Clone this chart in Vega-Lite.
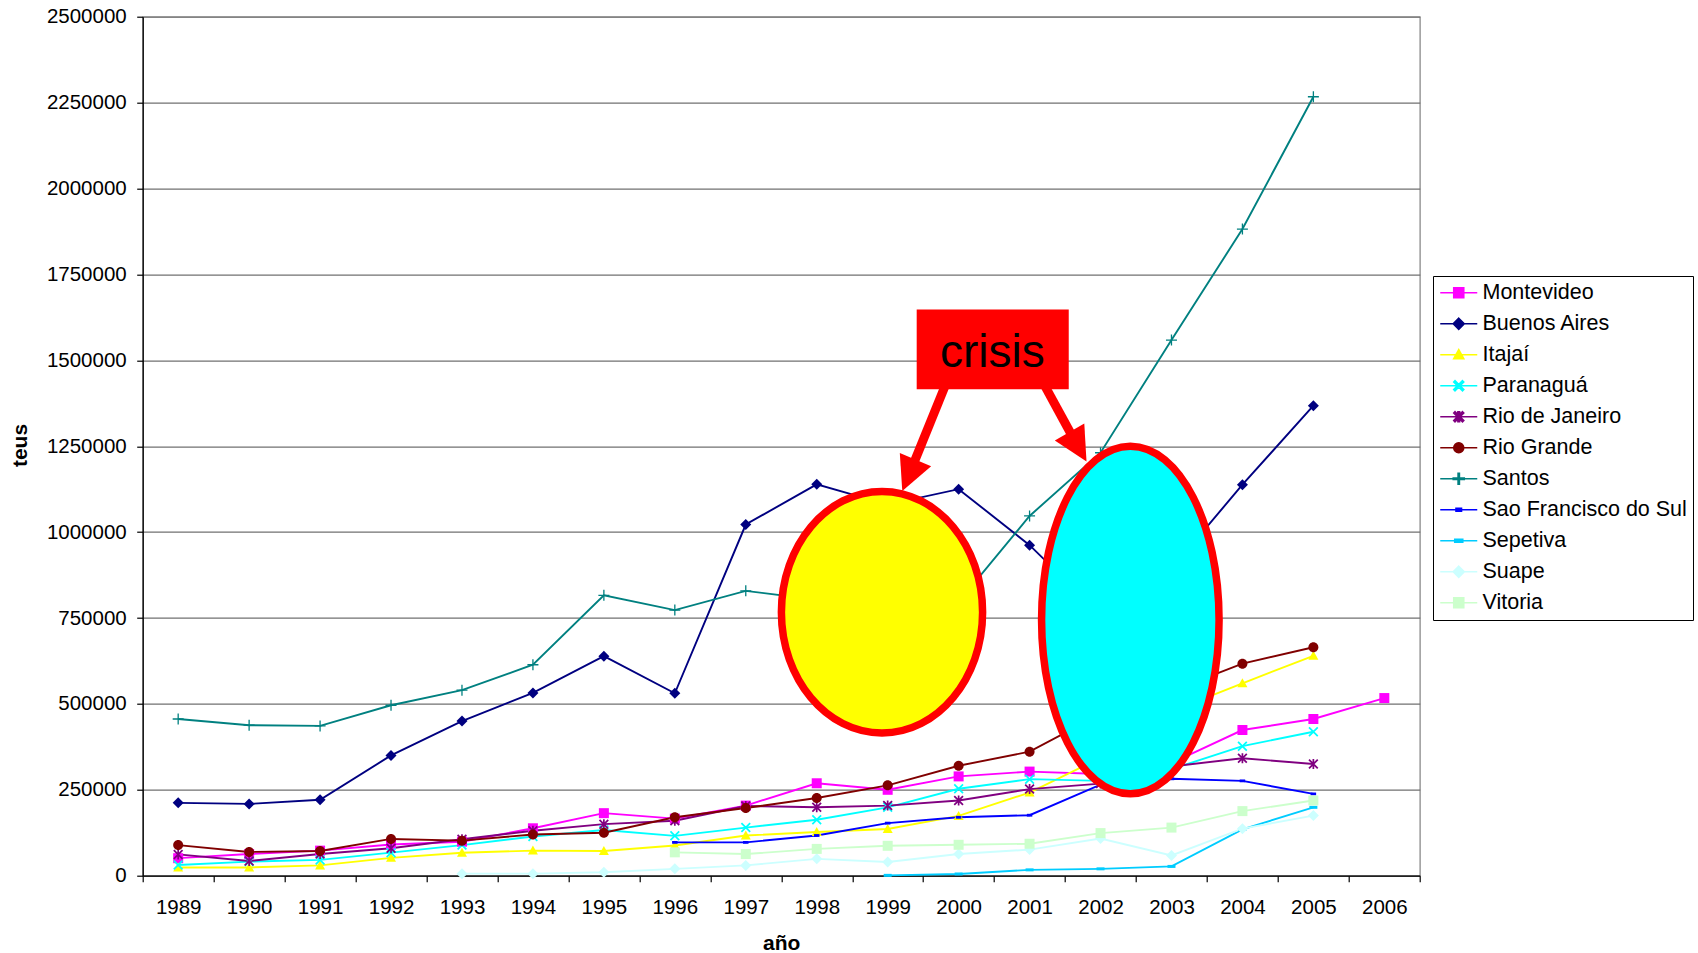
{
  "$schema": "https://vega.github.io/schema/vega-lite/v6.json",
  "autosize": {"type": "none"},
  "width": 1277.1,
  "height": 859,
  "padding": {"left": 142.7, "top": 16.7, "right": 278.2, "bottom": 77.3},
  "background": "white",
  "config": {
    "font": "Liberation Sans",
    "view": {"stroke": "#808080", "strokeWidth": 1.2},
    "axis": {"labelFont": "Liberation Sans", "titleFont": "Liberation Sans", "labelColor": "black", "titleColor": "black"},
    "legend": {"orient": "none", "legendX": 1290.3, "legendY": 259.3,
      "strokeColor": "black", "fillColor": "white", "padding": 6,
      "labelFontSize": 21.5, "labelFont": "Liberation Sans", "labelColor": "black", "labelLimit": 400,
      "symbolSize": 100, "symbolOffset": 9, "labelOffset": 13, "rowPadding": 8,
      "symbolOpacity": 1, "symbolStrokeWidth": 1.6}
  },
  "datasets": {
    "ports": [
      {"port": "Montevideo", "year": 1989, "teus": 51000}, {"port": "Montevideo", "year": 1990, "teus": 63000}, {"port": "Montevideo", "year": 1991, "teus": 73000}, {"port": "Montevideo", "year": 1992, "teus": 91000}, {"port": "Montevideo", "year": 1993, "teus": 99000}, {"port": "Montevideo", "year": 1994, "teus": 138000}, {"port": "Montevideo", "year": 1995, "teus": 182000}, {"port": "Montevideo", "year": 1996, "teus": 166000}, {"port": "Montevideo", "year": 1997, "teus": 204000}, {"port": "Montevideo", "year": 1998, "teus": 269000}, {"port": "Montevideo", "year": 1999, "teus": 250000}, {"port": "Montevideo", "year": 2000, "teus": 289000}, {"port": "Montevideo", "year": 2001, "teus": 303000}, {"port": "Montevideo", "year": 2002, "teus": 296000}, {"port": "Montevideo", "year": 2003, "teus": 328000}, {"port": "Montevideo", "year": 2004, "teus": 424000}, {"port": "Montevideo", "year": 2005, "teus": 456000}, {"port": "Montevideo", "year": 2006, "teus": 517000},
      {"port": "Buenos Aires", "year": 1989, "teus": 212000}, {"port": "Buenos Aires", "year": 1990, "teus": 209000}, {"port": "Buenos Aires", "year": 1991, "teus": 221000}, {"port": "Buenos Aires", "year": 1992, "teus": 350000}, {"port": "Buenos Aires", "year": 1993, "teus": 450000}, {"port": "Buenos Aires", "year": 1994, "teus": 532000}, {"port": "Buenos Aires", "year": 1995, "teus": 639000}, {"port": "Buenos Aires", "year": 1996, "teus": 531000}, {"port": "Buenos Aires", "year": 1997, "teus": 1022000}, {"port": "Buenos Aires", "year": 1998, "teus": 1139000}, {"port": "Buenos Aires", "year": 1999, "teus": 1080000}, {"port": "Buenos Aires", "year": 2000, "teus": 1125000}, {"port": "Buenos Aires", "year": 2001, "teus": 962000}, {"port": "Buenos Aires", "year": 2002, "teus": 760000}, {"port": "Buenos Aires", "year": 2003, "teus": 893000}, {"port": "Buenos Aires", "year": 2004, "teus": 1138000}, {"port": "Buenos Aires", "year": 2005, "teus": 1368000},
      {"port": "Itajaí", "year": 1989, "teus": 24000}, {"port": "Itajaí", "year": 1990, "teus": 24000}, {"port": "Itajaí", "year": 1991, "teus": 30000}, {"port": "Itajaí", "year": 1992, "teus": 52000}, {"port": "Itajaí", "year": 1993, "teus": 67000}, {"port": "Itajaí", "year": 1994, "teus": 73000}, {"port": "Itajaí", "year": 1995, "teus": 72000}, {"port": "Itajaí", "year": 1996, "teus": 88000}, {"port": "Itajaí", "year": 1997, "teus": 117000}, {"port": "Itajaí", "year": 1998, "teus": 127000}, {"port": "Itajaí", "year": 1999, "teus": 136000}, {"port": "Itajaí", "year": 2000, "teus": 174000}, {"port": "Itajaí", "year": 2001, "teus": 242000}, {"port": "Itajaí", "year": 2002, "teus": 343000}, {"port": "Itajaí", "year": 2003, "teus": 478000}, {"port": "Itajaí", "year": 2004, "teus": 560000}, {"port": "Itajaí", "year": 2005, "teus": 640000},
      {"port": "Paranaguá", "year": 1989, "teus": 31000}, {"port": "Paranaguá", "year": 1990, "teus": 41000}, {"port": "Paranaguá", "year": 1991, "teus": 46000}, {"port": "Paranaguá", "year": 1992, "teus": 67000}, {"port": "Paranaguá", "year": 1993, "teus": 89000}, {"port": "Paranaguá", "year": 1994, "teus": 114000}, {"port": "Paranaguá", "year": 1995, "teus": 133000}, {"port": "Paranaguá", "year": 1996, "teus": 116000}, {"port": "Paranaguá", "year": 1997, "teus": 140000}, {"port": "Paranaguá", "year": 1998, "teus": 163000}, {"port": "Paranaguá", "year": 1999, "teus": 199000}, {"port": "Paranaguá", "year": 2000, "teus": 253000}, {"port": "Paranaguá", "year": 2001, "teus": 281000}, {"port": "Paranaguá", "year": 2002, "teus": 276000}, {"port": "Paranaguá", "year": 2003, "teus": 310000}, {"port": "Paranaguá", "year": 2004, "teus": 377000}, {"port": "Paranaguá", "year": 2005, "teus": 419000},
      {"port": "Rio de Janeiro", "year": 1989, "teus": 62000}, {"port": "Rio de Janeiro", "year": 1990, "teus": 43000}, {"port": "Rio de Janeiro", "year": 1991, "teus": 63000}, {"port": "Rio de Janeiro", "year": 1992, "teus": 80000}, {"port": "Rio de Janeiro", "year": 1993, "teus": 106000}, {"port": "Rio de Janeiro", "year": 1994, "teus": 131000}, {"port": "Rio de Janeiro", "year": 1995, "teus": 150000}, {"port": "Rio de Janeiro", "year": 1996, "teus": 160000}, {"port": "Rio de Janeiro", "year": 1997, "teus": 203000}, {"port": "Rio de Janeiro", "year": 1998, "teus": 199000}, {"port": "Rio de Janeiro", "year": 1999, "teus": 204000}, {"port": "Rio de Janeiro", "year": 2000, "teus": 219000}, {"port": "Rio de Janeiro", "year": 2001, "teus": 252000}, {"port": "Rio de Janeiro", "year": 2002, "teus": 268000}, {"port": "Rio de Janeiro", "year": 2003, "teus": 318000}, {"port": "Rio de Janeiro", "year": 2004, "teus": 342000}, {"port": "Rio de Janeiro", "year": 2005, "teus": 325000},
      {"port": "Rio Grande", "year": 1989, "teus": 89000}, {"port": "Rio Grande", "year": 1990, "teus": 69000}, {"port": "Rio Grande", "year": 1991, "teus": 72000}, {"port": "Rio Grande", "year": 1992, "teus": 107000}, {"port": "Rio Grande", "year": 1993, "teus": 102000}, {"port": "Rio Grande", "year": 1994, "teus": 120000}, {"port": "Rio Grande", "year": 1995, "teus": 125000}, {"port": "Rio Grande", "year": 1996, "teus": 170000}, {"port": "Rio Grande", "year": 1997, "teus": 197000}, {"port": "Rio Grande", "year": 1998, "teus": 226000}, {"port": "Rio Grande", "year": 1999, "teus": 263000}, {"port": "Rio Grande", "year": 2000, "teus": 320000}, {"port": "Rio Grande", "year": 2001, "teus": 361000}, {"port": "Rio Grande", "year": 2002, "teus": 470000}, {"port": "Rio Grande", "year": 2003, "teus": 537000}, {"port": "Rio Grande", "year": 2004, "teus": 617000}, {"port": "Rio Grande", "year": 2005, "teus": 665000},
      {"port": "Santos", "year": 1989, "teus": 456000}, {"port": "Santos", "year": 1990, "teus": 438000}, {"port": "Santos", "year": 1991, "teus": 436000}, {"port": "Santos", "year": 1992, "teus": 496000}, {"port": "Santos", "year": 1993, "teus": 540000}, {"port": "Santos", "year": 1994, "teus": 614000}, {"port": "Santos", "year": 1995, "teus": 816000}, {"port": "Santos", "year": 1996, "teus": 773000}, {"port": "Santos", "year": 1997, "teus": 829000}, {"port": "Santos", "year": 1998, "teus": 803000}, {"port": "Santos", "year": 1999, "teus": 770000}, {"port": "Santos", "year": 2000, "teus": 797000}, {"port": "Santos", "year": 2001, "teus": 1047000}, {"port": "Santos", "year": 2002, "teus": 1231000}, {"port": "Santos", "year": 2003, "teus": 1559000}, {"port": "Santos", "year": 2004, "teus": 1882000}, {"port": "Santos", "year": 2005, "teus": 2267000},
      {"port": "Sao Francisco do Sul", "year": 1996, "teus": 97000}, {"port": "Sao Francisco do Sul", "year": 1997, "teus": 97000}, {"port": "Sao Francisco do Sul", "year": 1998, "teus": 117000}, {"port": "Sao Francisco do Sul", "year": 1999, "teus": 153000}, {"port": "Sao Francisco do Sul", "year": 2000, "teus": 170000}, {"port": "Sao Francisco do Sul", "year": 2001, "teus": 176000}, {"port": "Sao Francisco do Sul", "year": 2002, "teus": 265000}, {"port": "Sao Francisco do Sul", "year": 2003, "teus": 282000}, {"port": "Sao Francisco do Sul", "year": 2004, "teus": 276000}, {"port": "Sao Francisco do Sul", "year": 2005, "teus": 238000},
      {"port": "Sepetiva", "year": 1999, "teus": 1000}, {"port": "Sepetiva", "year": 2000, "teus": 5000}, {"port": "Sepetiva", "year": 2001, "teus": 17000}, {"port": "Sepetiva", "year": 2002, "teus": 20000}, {"port": "Sepetiva", "year": 2003, "teus": 27000}, {"port": "Sepetiva", "year": 2004, "teus": 135000}, {"port": "Sepetiva", "year": 2005, "teus": 199000},
      {"port": "Suape", "year": 1993, "teus": 6000}, {"port": "Suape", "year": 1994, "teus": 6000}, {"port": "Suape", "year": 1995, "teus": 10000}, {"port": "Suape", "year": 1996, "teus": 20000}, {"port": "Suape", "year": 1997, "teus": 30000}, {"port": "Suape", "year": 1998, "teus": 49000}, {"port": "Suape", "year": 1999, "teus": 40000}, {"port": "Suape", "year": 2000, "teus": 63000}, {"port": "Suape", "year": 2001, "teus": 76000}, {"port": "Suape", "year": 2002, "teus": 108000}, {"port": "Suape", "year": 2003, "teus": 59000}, {"port": "Suape", "year": 2004, "teus": 137000}, {"port": "Suape", "year": 2005, "teus": 175000},
      {"port": "Vitoria", "year": 1996, "teus": 68000}, {"port": "Vitoria", "year": 1997, "teus": 63000}, {"port": "Vitoria", "year": 1998, "teus": 78000}, {"port": "Vitoria", "year": 1999, "teus": 87000}, {"port": "Vitoria", "year": 2000, "teus": 90000}, {"port": "Vitoria", "year": 2001, "teus": 93000}, {"port": "Vitoria", "year": 2002, "teus": 124000}, {"port": "Vitoria", "year": 2003, "teus": 140000}, {"port": "Vitoria", "year": 2004, "teus": 188000}, {"port": "Vitoria", "year": 2005, "teus": 219000}
    ]
  },
  "layer": [
    {
      "data": {"name": "ports"},
      "encoding": {
        "x": {"field": "year", "type": "quantitative",
          "scale": {"domain": [1988.5, 2006.5], "nice": false, "zero": false},
          "axis": {"title": "año", "values": [1988.5, 1989.5, 1990.5, 1991.5, 1992.5, 1993.5, 1994.5, 1995.5, 1996.5, 1997.5, 1998.5, 1999.5, 2000.5, 2001.5, 2002.5, 2003.5, 2004.5, 2005.5, 2006.5],
            "labelExpr": "datum.value < 2006 ? format(datum.value + 0.5, 'd') : ''",
            "labelOffset": 35.5, "labelFlush": false, "labelOverlap": false, "labelBound": false,
            "grid": false, "tickSize": 6, "tickColor": "black", "tickWidth": 1.2, "domainColor": "black", "domainWidth": 1.3,
            "labelFontSize": 20.5, "labelPadding": 16, "titleFontSize": 21, "titleFontWeight": "bold",
            "titleX": 638.5, "titleY": 73.6, "titleBaseline": "alphabetic", "titleAnchor": "middle"}},
        "y": {"field": "teus", "type": "quantitative",
          "scale": {"domain": [0, 2500000], "nice": false},
          "axis": {"title": "teus", "values": [0, 250000, 500000, 750000, 1000000, 1250000, 1500000, 1750000, 2000000, 2250000, 2500000],
            "format": "d", "grid": true, "gridColor": "#707070", "gridWidth": 1.2, "tickSize": 6, "tickColor": "black", "tickWidth": 1.2,
            "domainColor": "black", "domainWidth": 1.3, "labelFontSize": 20.5, "labelPadding": 10.5,
            "titleFontSize": 21, "titleFontWeight": "bold", "titleX": -116, "titleY": 428.3, "titleBaseline": "alphabetic", "titleAngle": -90}},
        "color": {"field": "port", "type": "nominal",
          "scale": {"domain": ["Montevideo", "Buenos Aires", "Itajaí", "Paranaguá", "Rio de Janeiro", "Rio Grande", "Santos", "Sao Francisco do Sul", "Sepetiva", "Suape", "Vitoria"],
            "range": ["#FF00FF", "#000080", "#FFFF00", "#00FFFF", "#800080", "#800000", "#008080", "#0000FF", "#00CCFF", "#CCFFFF", "#CCFFCC"]},
          "legend": {"title": null}
        }
      },
      "layer": [
        {"mark": {"type": "line", "strokeWidth": 1.9}},
        {"mark": {"type": "point", "filled": true, "opacity": 0, "size": 100},
          "encoding": {"shape": {"field": "port", "type": "nominal", "legend": {"title": null},
            "scale": {"domain": ["Montevideo", "Buenos Aires", "Itajaí", "Paranaguá", "Rio de Janeiro", "Rio Grande", "Santos", "Sao Francisco do Sul", "Sepetiva", "Suape", "Vitoria"],
              "range": [
                "M-3.7,0H3.7M-1,-1H1V1H-1Z",
                "M-3.7,0H3.7M0,-1.1L1.1,0L0,1.1L-1.1,0Z",
                "M-3.7,0H3.7M0,-1L1,0.8L-1,0.8Z",
                "M-3.7,0H3.7M-1,-0.75L-0.75,-1L1,0.75L0.75,1ZM0.75,-1L1,-0.75L-0.75,1L-1,0.75Z",
                "M-3.7,0H3.7M-1,-0.75L-0.75,-1L1,0.75L0.75,1ZM0.75,-1L1,-0.75L-0.75,1L-1,0.75ZM-0.17,-1H0.17V1H-0.17Z",
                "M-3.7,0H3.7M1,0C1,0.5523,0.5523,1,0,1C-0.5523,1,-1,0.5523,-1,0C-1,-0.5523,-0.5523,-1,0,-1C0.5523,-1,1,-0.5523,1,0Z",
                "M-3.7,0H3.7M-1.1,-0.13H1.1V0.13H-1.1ZM-0.13,-1.1H0.13V1.1H-0.13Z",
                "M-3.7,0H3.7M-0.55,-0.28H0.55V0.28H-0.55Z",
                "M-3.7,0H3.7M-0.8,-0.3H0.8V0.3H-0.8Z",
                "M-3.7,0H3.7M0,-1.1L1.1,0L0,1.1L-1.1,0Z",
                "M-3.7,0H3.7M-1,-1H1V1H-1Z"
              ]}}}},
        {"transform": [{"filter": "datum.port === 'Montevideo'"}], "mark": {"type": "point", "filled": true, "opacity": 1, "size": 100, "shape": "M-1,-1H1V1H-1Z"}},
        {"transform": [{"filter": "datum.port === 'Buenos Aires'"}], "mark": {"type": "point", "filled": true, "opacity": 1, "size": 100, "shape": "M0,-1.1L1.1,0L0,1.1L-1.1,0Z"}},
        {"transform": [{"filter": "datum.port === 'Itajaí'"}], "mark": {"type": "point", "filled": true, "opacity": 1, "size": 100, "shape": "M0,-1L1,0.8L-1,0.8Z"}},
        {"transform": [{"filter": "datum.port === 'Paranaguá'"}], "mark": {"type": "point", "filled": true, "opacity": 1, "size": 100, "shape": "M-1,-0.75L-0.75,-1L1,0.75L0.75,1ZM0.75,-1L1,-0.75L-0.75,1L-1,0.75Z"}},
        {"transform": [{"filter": "datum.port === 'Rio de Janeiro'"}], "mark": {"type": "point", "filled": true, "opacity": 1, "size": 100, "shape": "M-1,-0.75L-0.75,-1L1,0.75L0.75,1ZM0.75,-1L1,-0.75L-0.75,1L-1,0.75ZM-0.17,-1H0.17V1H-0.17Z"}},
        {"transform": [{"filter": "datum.port === 'Rio Grande'"}], "mark": {"type": "point", "filled": true, "opacity": 1, "size": 100, "shape": "M1,0C1,0.5523,0.5523,1,0,1C-0.5523,1,-1,0.5523,-1,0C-1,-0.5523,-0.5523,-1,0,-1C0.5523,-1,1,-0.5523,1,0Z"}},
        {"transform": [{"filter": "datum.port === 'Santos'"}], "mark": {"type": "point", "filled": true, "opacity": 1, "size": 100, "shape": "M-1.1,-0.13H1.1V0.13H-1.1ZM-0.13,-1.1H0.13V1.1H-0.13Z"}},
        {"transform": [{"filter": "datum.port === 'Sao Francisco do Sul'"}], "mark": {"type": "point", "filled": true, "opacity": 1, "size": 100, "shape": "M-0.55,-0.28H0.55V0.28H-0.55Z"}},
        {"transform": [{"filter": "datum.port === 'Sepetiva'"}], "mark": {"type": "point", "filled": true, "opacity": 1, "size": 100, "shape": "M-0.8,-0.3H0.8V0.3H-0.8Z"}},
        {"transform": [{"filter": "datum.port === 'Suape'"}], "mark": {"type": "point", "filled": true, "opacity": 1, "size": 100, "shape": "M0,-1.1L1.1,0L0,1.1L-1.1,0Z"}},
        {"transform": [{"filter": "datum.port === 'Vitoria'"}], "mark": {"type": "point", "filled": true, "opacity": 1, "size": 100, "shape": "M-1,-1H1V1H-1Z"}}
      ]
    },
    {
      "data": {"values": [{"year": 1998.92, "teus": 766800}]},
      "mark": {"type": "point", "filled": true, "opacity": 1, "fill": "#FFFF00", "stroke": "#FF0000", "strokeWidth": 7.5, "strokeOpacity": 1, "fillOpacity": 1, "size": 58322,
        "shape": "M0.8331,0C0.8331,0.5523,0.4601,1,0,1C-0.4601,1,-0.8331,0.5523,-0.8331,0C-0.8331,-0.5523,-0.4601,-1,0,-1C0.4601,-1,0.8331,-0.5523,0.8331,0Z"},
      "encoding": {
        "x": {"field": "year", "type": "quantitative", "scale": {"domain": [1988.5, 2006.5], "nice": false, "zero": false}},
        "y": {"field": "teus", "type": "quantitative", "scale": {"domain": [0, 2500000], "nice": false}}
      }
    },
    {
      "data": {"values": [{"year": 2002.42, "teus": 744100}]},
      "mark": {"type": "point", "filled": true, "opacity": 1, "fill": "#00FFFF", "stroke": "#FF0000", "strokeWidth": 7.5, "strokeOpacity": 1, "fillOpacity": 1, "size": 120756,
        "shape": "M0.5108,0C0.5108,0.5523,0.2821,1,0,1C-0.2821,1,-0.5108,0.5523,-0.5108,0C-0.5108,-0.5523,-0.2821,-1,0,-1C0.2821,-1,0.5108,-0.5523,0.5108,0Z"},
      "encoding": {
        "x": {"field": "year", "type": "quantitative", "scale": {"domain": [1988.5, 2006.5], "nice": false, "zero": false}},
        "y": {"field": "teus", "type": "quantitative", "scale": {"domain": [0, 2500000], "nice": false}}
      }
    },
    {
      "data": {"values": [
        {"year": 1999.808, "teus": 1425000, "year2": 1999.299, "teus2": 1165500},
        {"year": 2001.217, "teus": 1425000, "year2": 2001.683, "teus2": 1248400}
      ]},
      "mark": {"type": "rule", "color": "#FF0000", "strokeWidth": 9},
      "encoding": {
        "x": {"field": "year", "type": "quantitative", "scale": {"domain": [1988.5, 2006.5], "nice": false, "zero": false}},
        "y": {"field": "teus", "type": "quantitative", "scale": {"domain": [0, 2500000], "nice": false}},
        "x2": {"field": "year2"},
        "y2": {"field": "teus2"}
      }
    },
    {
      "data": {"values": [{"year": 1999.299, "teus": 1165500}]},
      "mark": {"type": "point", "filled": true, "opacity": 1, "color": "#FF0000", "size": 1156, "angle": 22.8, "shape": "M-1,-1L1,-1L0,1Z"},
      "encoding": {
        "x": {"field": "year", "type": "quantitative", "scale": {"domain": [1988.5, 2006.5], "nice": false, "zero": false}},
        "y": {"field": "teus", "type": "quantitative", "scale": {"domain": [0, 2500000], "nice": false}}
      }
    },
    {
      "data": {"values": [{"year": 2001.683, "teus": 1248400}]},
      "mark": {"type": "point", "filled": true, "opacity": 1, "color": "#FF0000", "size": 1156, "angle": 330.1, "shape": "M-1,-1L1,-1L0,1Z"},
      "encoding": {
        "x": {"field": "year", "type": "quantitative", "scale": {"domain": [1988.5, 2006.5], "nice": false, "zero": false}},
        "y": {"field": "teus", "type": "quantitative", "scale": {"domain": [0, 2500000], "nice": false}}
      }
    },
    {
      "data": {"values": [{"year": 1999.409, "teus": 1648200, "year2": 2001.552, "teus2": 1415400}]},
      "mark": {"type": "rect", "color": "#FF0000", "opacity": 1},
      "encoding": {
        "x": {"field": "year", "type": "quantitative", "scale": {"domain": [1988.5, 2006.5], "nice": false, "zero": false}},
        "y": {"field": "teus", "type": "quantitative", "scale": {"domain": [0, 2500000], "nice": false}},
        "x2": {"field": "year2"},
        "y2": {"field": "teus2"}
      }
    },
    {
      "data": {"values": [{"year": 2000.475, "teus": 1479400, "label": "crisis"}]},
      "mark": {"type": "text", "font": "Liberation Sans", "fontSize": 46, "baseline": "alphabetic", "align": "center", "color": "black"},
      "encoding": {
        "x": {"field": "year", "type": "quantitative", "scale": {"domain": [1988.5, 2006.5], "nice": false, "zero": false}},
        "y": {"field": "teus", "type": "quantitative", "scale": {"domain": [0, 2500000], "nice": false}},
        "text": {"field": "label"}
      }
    }
  ]
}
